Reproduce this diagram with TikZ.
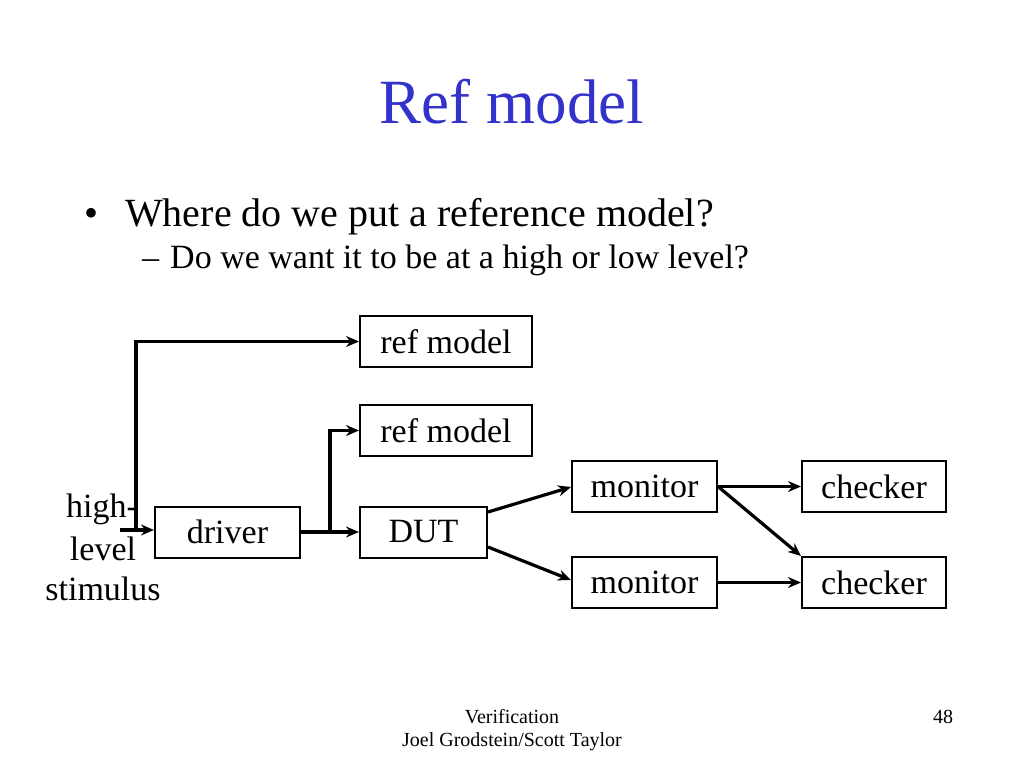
\documentclass[tikz,border=0pt]{standalone}
\usepackage{fontspec}
\setmainfont{Liberation Serif}
\usetikzlibrary{arrows.meta}
\definecolor{titleblue}{RGB}{51,51,204}
\tikzset{
  blk/.style={draw=black, line width=2pt, fill=white, inner sep=0pt, font=\fontsize{34}{38}\selectfont},
  conn/.style={line width=3.2pt, -{Stealth[length=13pt,width=11pt]}},
  lbl/.style={inner sep=0pt, font=\fontsize{34}{38}\selectfont}
}
\begin{document}
\begin{tikzpicture}[x=1pt,y=-1pt]
\useasboundingbox (0,0) rectangle (1024,768);
% title
\node[inner sep=0pt, text=titleblue, font=\fontsize{63}{68}\selectfont] (title) at (512,102) {Ref model};
% bullets
\node[inner sep=0pt, anchor=base west, font=\fontsize{40}{44}\selectfont] (b1) at (84,226) {\textbullet};
\node[inner sep=0pt, anchor=base west, font=\fontsize{40}{44}\selectfont] (t1) at (125,226) {Where do we put a reference model?};
\node[inner sep=0pt, anchor=base west, font=\fontsize{34}{38}\selectfont] (b2) at (142,268) {–};
\node[inner sep=0pt, anchor=base west, font=\fontsize{34}{38}\selectfont] (t2) at (170,268) {Do we want it to be at a high or low level?};
% boxes
\node[blk, minimum width=172pt, minimum height=51pt] (ref1) at (446,341.5) {ref model};
\node[blk, minimum width=172pt, minimum height=51pt] (ref2) at (446,430.5) {ref model};
\node[blk, minimum width=145pt, minimum height=51pt] (drv) at (227.5,532) {driver};
\node[blk, minimum width=127pt, minimum height=51pt] (dut) at (423.5,532) {DUT};
\node[blk, minimum width=145pt, minimum height=51pt] (mon1) at (644.5,486.5) {monitor};
\node[blk, minimum width=145pt, minimum height=51pt] (mon2) at (644.5,582.5) {monitor};
\node[blk, minimum width=144pt, minimum height=51pt] (chk1) at (874,486.5) {checker};
\node[blk, minimum width=144pt, minimum height=51pt] (chk2) at (874,582.5) {checker};
% stimulus label
\node[lbl] (l1) at (102,509) {high-};
\node[lbl] (l2) at (103,549) {level};
\node[lbl] (l3) at (103,589) {stimulus};
% connectors
\coordinate (stim) at (120,530);
\coordinate (up) at (136,530);
\coordinate (br) at (330,532);
\draw[conn] (stim) -- (drv.west |- stim);
\draw[conn] (up) -- (136,341.5) -- (ref1.west);
\draw[conn] (drv.east) -- (dut.west);
\draw[conn] (br) |- (ref2.west);
\draw[conn] (488,512) -- (mon1.west |- 0,487);
\draw[conn] (488,547) -- (mon2.west |- 0,580);
\draw[conn] (mon1.east) -- (chk1.west);
\draw[conn] (mon2.east) -- (chk2.west);
\draw[conn] (mon1.east) -- (chk2.north west);
% footer
\node[inner sep=0pt, font=\fontsize{20}{24}\selectfont] (f1) at (512,717) {Verification};
\node[inner sep=0pt, font=\fontsize{20}{24}\selectfont] (f2) at (512,742) {Joel Grodstein/Scott Taylor};
\node[inner sep=0pt, font=\fontsize{20}{24}\selectfont] (pg) at (943,717) {48};
\end{tikzpicture}
\end{document}
